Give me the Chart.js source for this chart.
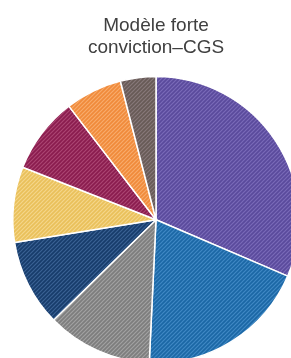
<!DOCTYPE html>
<html>
<head>
<meta charset="utf-8">
<script src="https://cdn.jsdelivr.net/npm/chart.js@4/dist/chart.umd.min.js"></script>
<style>
  html, body { margin: 0; padding: 0; background: #ffffff; overflow: hidden; width: 291px; height: 358px; }
  #wrap { position: absolute; left: 0; top: 0; width: 312px; height: 364px; }
</style>
</head>
<body>
<div id="wrap"><canvas id="c" width="312" height="364"></canvas></div>
<script>
const titleLines = ["Modèle forte", "conviction–CGS"];
const categories = ["Segment 1", "Segment 2", "Segment 3", "Segment 4", "Segment 5", "Segment 6", "Segment 7", "Segment 8"];
const values = [31.4, 19.3, 11.9, 9.8, 8.5, 8.6, 6.4, 4.0];
const baseColors = ["#5a4a9c", "#1b67a5", "#7d7d7d", "#173c6b", "#e9c05a", "#8a1c4e", "#f08a3a", "#675a56"];
const stripeColors = ["#7a6ab8", "#4088c4", "#a2a2a2", "#3b6294", "#f4d68a", "#ab4572", "#f8ac6c", "#87797a"];

function makePattern(base, stripe) {
  const s = 4;
  const cv = document.createElement('canvas');
  cv.width = s; cv.height = s;
  const g = cv.getContext('2d');
  g.fillStyle = base;
  g.fillRect(0, 0, s, s);
  g.strokeStyle = stripe;
  g.lineWidth = 1.2;
  g.beginPath();
  g.moveTo(-1, s + 1); g.lineTo(s + 1, -1);
  g.moveTo(-1, 1); g.lineTo(1, -1);
  g.moveTo(s - 1, s + 1); g.lineTo(s + 1, s - 1);
  g.stroke();
  return document.getElementById('c').getContext('2d').createPattern(cv, 'repeat');
}

const patterns = baseColors.map((b, i) => makePattern(b, stripeColors[i]));

new Chart(document.getElementById('c'), {
  type: 'pie',
  data: {
    labels: categories,
    datasets: [{
      data: values,
      backgroundColor: patterns,
      borderColor: '#ffffff',
      borderWidth: 1.5
    }]
  },
  options: {
    responsive: false,
    animation: false,
    devicePixelRatio: 1,
    layout: { padding: { left: 12, right: 12, top: 0, bottom: 0 } },
    plugins: {
      legend: { display: false },
      tooltip: { enabled: false },
      title: {
        display: true,
        text: titleLines,
        color: '#404040',
        font: { family: "'Liberation Sans', Arial, sans-serif", size: 19, weight: 'normal', lineHeight: 1.2 },
        padding: { top: 14, bottom: 16 }
      }
    }
  }
});
</script>
</body>
</html>
